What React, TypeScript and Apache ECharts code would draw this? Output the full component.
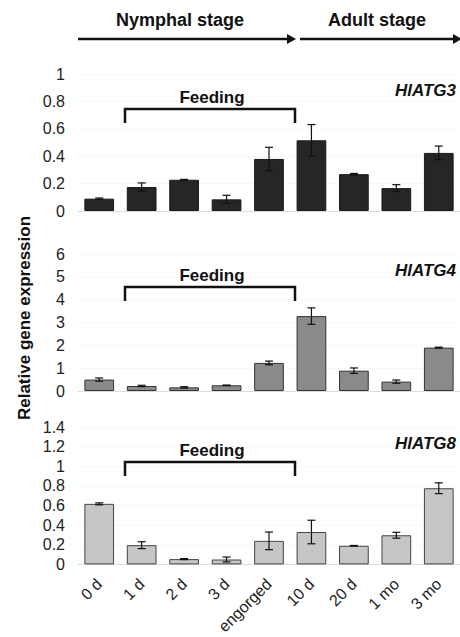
import React, { useEffect, useRef } from "react";
import * as echarts from "echarts";

const categories = ["0 d", "1 d", "2 d", "3 d", "engorged", "10 d", "20 d", "1 mo", "3 mo"];
const atg3 = [0.09, 0.175, 0.228, 0.085, 0.38, 0.516, 0.269, 0.167, 0.424];
const atg3Err = [0.005, 0.03, 0.003, 0.03, 0.085, 0.115, 0.005, 0.025, 0.05];
const atg4 = [0.5, 0.22, 0.16, 0.25, 1.23, 3.28, 0.89, 0.41, 1.9];
const atg4Err = [0.07, 0.03, 0.03, 0.01, 0.08, 0.36, 0.12, 0.07, 0.02];
const atg8 = [0.617, 0.196, 0.054, 0.05, 0.24, 0.33, 0.19, 0.297, 0.776];
const atg8Err = [0.01, 0.035, 0.005, 0.025, 0.09, 0.12, 0.003, 0.03, 0.055];
const geneNames = ["HlATG3", "HlATG4", "HlATG8"];
const yMax = [1, 6, 1.4];
const yInterval = [0.2, 1, 0.2];

const FONT = "Liberation Sans, Arial, sans-serif";

export default function App() {
  const ref = useRef<HTMLDivElement>(null);
  useEffect(() => {
    if (!ref.current) return;
    const chart = echarts.init(ref.current, null, { renderer: "svg" });
    const left = 78;
    const band = 44;
    const tops = [74, 254, 427];
    const heights = [137, 137, 138];
    const values = [atg3, atg4, atg8];
    const errs = [atg3Err, atg4Err, atg8Err];
    const colors = ["#262626", "#8a8a8a", "#c6c6c6"];
    const borders = ["#1a1a1a", "#333333", "#444444"];

    const grids = tops.map((t, i) => ({ left, right: 460 - (left + band * 9), top: t, height: heights[i] }));
    const xAxes = tops.map((_, i) => ({
      type: "category",
      gridIndex: i,
      data: categories,
      axisTick: { show: false },
      axisLine: { show: true, lineStyle: { color: "#dcdcdc" } },
      axisLabel: i === 2 ? { rotate: 45, fontSize: 16, color: "#222", fontFamily: FONT, margin: 17, interval: 0 } : { show: false },
    }));
    const yAxes = tops.map((_, i) => ({
      type: "value",
      gridIndex: i,
      min: 0,
      max: yMax[i],
      interval: yInterval[i],
      axisLine: { show: false },
      axisTick: { show: false },
      splitLine: { show: true, lineStyle: { color: "#efefef", type: "dotted" } },
      axisLabel: { fontSize: 16, color: "#222", fontFamily: FONT, margin: 13, formatter: (v: number) => String(parseFloat(v.toFixed(2))) },
    }));
    const series: any[] = [];
    values.forEach((vals, i) => {
      series.push({
        type: "bar",
        xAxisIndex: i,
        yAxisIndex: i,
        data: vals,
        barWidth: "70%",
        itemStyle: { color: colors[i], borderColor: borders[i], borderWidth: 1 },
      });
      series.push({
        type: "custom",
        xAxisIndex: i,
        yAxisIndex: i,
        data: vals.map((v, k) => [k, v - errs[i][k], v + errs[i][k]]),
        encode: { x: 0, y: [1, 2] },
        z: 5,
        renderItem: (params: any, api: any) => {
          const lo = api.coord([api.value(0), api.value(1)]);
          const hi = api.coord([api.value(0), api.value(2)]);
          const w = 4;
          const st = { stroke: "#111", lineWidth: 1.2 };
          return {
            type: "group",
            children: [
              { type: "line", shape: { x1: lo[0], y1: lo[1], x2: hi[0], y2: hi[1] }, style: st },
              { type: "line", shape: { x1: lo[0] - w, y1: lo[1], x2: lo[0] + w, y2: lo[1] }, style: st },
              { type: "line", shape: { x1: hi[0] - w, y1: hi[1], x2: hi[0] + w, y2: hi[1] }, style: st },
            ],
          };
        },
      });
    });

    const graphic: any[] = [];
    const arrowY = 39;
    const arrows = [
      [left, left + band * 5 - 2],
      [left + band * 5 + 2, 462],
    ];
    arrows.forEach(([x1, x2]) => {
      graphic.push({ type: "line", z: 100, shape: { x1, y1: arrowY, x2: x2 - 4, y2: arrowY }, style: { stroke: "#111", lineWidth: 2.5 } });
      graphic.push({ type: "polygon", z: 100, shape: { points: [[x2 - 9, arrowY - 5], [x2, arrowY], [x2 - 9, arrowY + 5]] }, style: { fill: "#111" } });
    });
    graphic.push({ type: "text", z: 100, x: 180, y: 20, style: { text: "Nymphal stage", font: `bold 18px ${FONT}`, fill: "#111", textAlign: "center", textVerticalAlign: "middle" } });
    graphic.push({ type: "text", z: 100, x: 377, y: 20, style: { text: "Adult stage", font: `bold 18px ${FONT}`, fill: "#111", textAlign: "center", textVerticalAlign: "middle" } });

    const bracketTops = [109, 287, 462];
    bracketTops.forEach((bt, i) => {
      const bx1 = left + band + 3;
      const bx2 = left + band * 5 - 3;
      graphic.push({
        type: "polyline",
        z: 100,
        shape: { points: [[bx1, bt + 14], [bx1, bt], [bx2, bt], [bx2, bt + 14]] },
        style: { stroke: "#111", lineWidth: 2.5, fill: null },
      });
      graphic.push({ type: "text", z: 100, x: (bx1 + bx2) / 2 + 2, y: bt - 12, style: { text: "Feeding", font: `bold 17px ${FONT}`, fill: "#111", textAlign: "center", textVerticalAlign: "middle" } });
      graphic.push({ type: "text", z: 100, x: 456, y: tops[i] + 16, style: { text: geneNames[i], font: `italic bold 17px ${FONT}`, fill: "#111", textAlign: "right", textVerticalAlign: "middle" } });
    });
    graphic.push({
      type: "text",
      z: 100,
      x: 24,
      y: 318,
      rotation: Math.PI / 2,
      style: { text: "Relative gene expression", font: `bold 17px ${FONT}`, fill: "#111", textAlign: "center", textVerticalAlign: "middle" },
    });

    chart.setOption({
      animation: false,
      grid: grids,
      xAxis: xAxes,
      yAxis: yAxes,
      series,
      graphic,
    });
    return () => chart.dispose();
  }, []);
  return <div ref={ref} style={{ width: 460, height: 637, position: "absolute", left: 0, top: 0, background: "#fff" }} />;
}
